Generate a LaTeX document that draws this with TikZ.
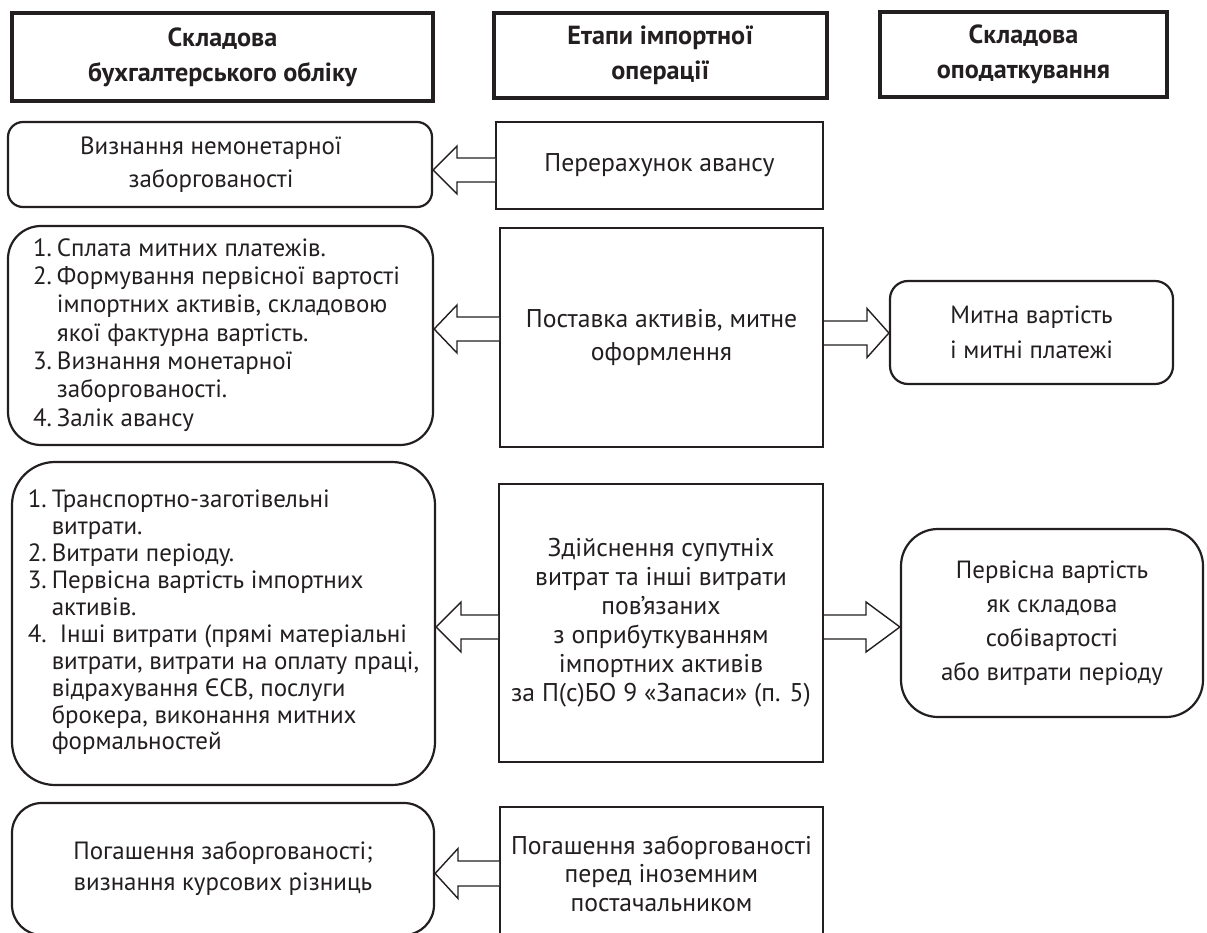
\documentclass[tikz,border=0pt]{standalone}
\usepackage{fontspec}
\setmainfont{PT Sans}
\definecolor{ink}{HTML}{231F20}
\newlength\wtmp
\newcommand\fitsize[4]{%
  \settowidth\wtmp{#2\fontsize{10}{12}\selectfont #3}%
  \pgfmathsetmacro#1{10*#4/\wtmp}}
\AtBeginDocument{%
  \fitsize\hsz{\bfseries}{бухгалтерського обліку}{269}%
  \fitsize\lsz{}{Формування первісної вартості}{343}%
  \fitsize\msz{}{Погашення заборгованості}{301}%
  \fitsize\rsz{}{або витрати періоду}{222}}
\tikzset{
  hdr/.style={draw=ink, line width=3.3pt, inner sep=0pt, align=center, text=ink,
    font=\bfseries\fontsize{\hsz}{35}\selectfont},
  stagebox/.style={draw=ink, line width=2pt, inner sep=0pt, align=center, text=ink},
  accbox/.style={draw=ink, line width=2.2pt, inner sep=0pt, align=center, text=ink},
  arr/.style={draw=ink, line width=1.4pt, line join=miter, fill=white},
}
\begin{document}
\begin{tikzpicture}[x=1pt,y=-1pt]
\useasboundingbox (0,0) rectangle (1207,933);
\clip (0,0) rectangle (1207,933);

% headers
\node[hdr, minimum width=421, minimum height=88] (H1) at (222.5,57) {Складова\\бухгалтерського обліку};
\node[hdr, minimum width=333, minimum height=85] (H2) at (660.5,55.5) {Етапи імпортної\\операції};
\node[hdr, minimum width=287, minimum height=85] (H3) at (1023.5,54.5) {Складова\\оподаткування};

% row 1
\node[accbox, rounded corners=15pt, minimum width=424, minimum height=85,
  font=\fontsize{\lsz}{33}\selectfont] (L1) at (220,164.5)
  {Визнання немонетарної\hspace*{18pt}\\заборгованості\hspace*{18pt}};
\node[stagebox, minimum width=327, minimum height=87,
  font=\fontsize{\msz}{30}\selectfont] (M1) at (659.5,165.5) {Перерахунок авансу};

% row 2
\node[accbox, rounded corners=33pt, minimum width=425, minimum height=219] (L2) at (220.5,335.5)
 {\fontsize{\lsz}{28.3}\selectfont
  \begin{tabular}{@{}l@{\hspace{5pt}}l@{}}
  1. & Сплата митних платежів.\\
  2. & Формування первісної вартості\\
     & імпортних активів, складовою\\
     & якої фактурна вартість.\\
  3. & Визнання монетарної\\
     & заборгованості.\\
  4. & Залік авансу
  \end{tabular}\hspace*{8pt}};
\node[stagebox, minimum width=323, minimum height=219,
  font=\fontsize{\msz}{33}\selectfont] (M2) at (661.5,337.5) {Поставка активів, митне\\оформлення};
\node[accbox, rounded corners=18pt, minimum width=283, minimum height=103,
  font=\fontsize{\rsz}{35}\selectfont] (R2) at (1031.5,332.5) {Митна вартість\\і митні платежі};

% row 3
\node[accbox, rounded corners=43pt, minimum width=423, minimum height=323] (L3) at (223.5,623.5)
 {\fontsize{\lsz}{26.9}\selectfont
  \begin{tabular}{@{}l@{\hspace{5pt}}l@{}}
  1. & Транспортно-заготівельні\\
     & витрати.\\
  2. & Витрати періоду.\\
  3. & Первісна вартість імпортних\\
     & активів.\\
  4. & \hspace{8pt}Інші витрати (прямі матеріальні\\
     & витрати, витрати на оплату праці,\\
     & відрахування ЄСВ, послуги\\
     & брокера, виконання митних\\
     & формальностей
  \end{tabular}};
\node[stagebox, minimum width=324, minimum height=278,
  font=\fontsize{\msz}{29}\selectfont] (M3) at (661,623)
  {Здійснення супутніх\\витрат та інші витрати\\пов’язаних\\з оприбуткуванням\\імпортних активів\\за П(с)БО 9 «Запаси» (п. 5)};
\node[accbox, rounded corners=37pt, minimum width=302, minimum height=188,
  font=\fontsize{\rsz}{34}\selectfont] (R3) at (1052,623)
  {Первісна вартість\\як складова\\собівартості\\або витрати періоду};

% row 4
\node[accbox, rounded corners=30pt, minimum width=422, minimum height=132,
  font=\fontsize{\lsz}{31}\selectfont] (L4) at (223,869) {Погашення заборгованості;\\визнання курсових різниць};
\node[stagebox, minimum width=323, minimum height=133,
  font=\fontsize{\msz}{28.5}\selectfont] (M4) at (661.5,873.5)
  {Погашення заборгованості\\перед іноземним\\постачальником};

% block arrows
\draw[arr] (M1.west |- 0,158) -- (457,158) -- (457,146) -- (L1.east |- 0,170)
  -- (457,194) -- (457,182) -- (M1.west |- 0,182);
\draw[arr] (M2.west |- 0,317) -- (457,317) -- (457,305) -- (L2.east |- 0,329)
  -- (457,353) -- (457,341) -- (M2.west |- 0,341);
\draw[arr] (M2.east |- 0,321) -- (867,321) -- (867,308.5) -- (R2.west |- 0,333)
  -- (867,357.5) -- (867,345) -- (M2.east |- 0,345);
\draw[arr] (M3.west |- 0,615) -- (461,615) -- (461,602) -- (L3.east |- 0,627)
  -- (461,652) -- (461,639) -- (M3.west |- 0,639);
\draw[arr] (M3.east |- 0,615) -- (866,615) -- (866,602) -- (R3.west |- 0,627)
  -- (866,652) -- (866,639) -- (M3.east |- 0,639);
\draw[arr] (M4.west |- 0,861) -- (458,861) -- (458,848.5) -- (L4.east |- 0,873.5)
  -- (458,898.5) -- (458,886) -- (M4.west |- 0,886);
\end{tikzpicture}
\end{document}
